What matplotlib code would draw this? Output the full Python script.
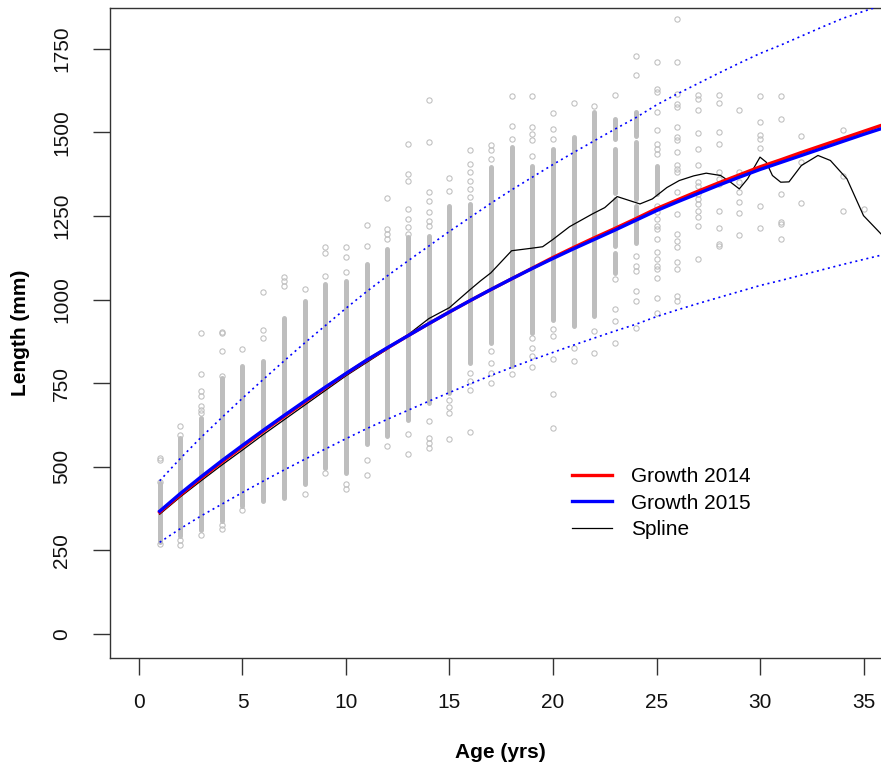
import matplotlib
matplotlib.use("Agg")
import matplotlib.pyplot as plt
from matplotlib.lines import Line2D

plt.rcParams["font.family"] = ["Liberation Sans", "DejaVu Sans"]

# ---- observed lengths -------------------------------------------------
# dense runs of overlapping points: (age, low, high)
dense_age = [1, 2, 3, 4, 5, 6, 7, 8, 9, 10, 11, 12, 13, 14, 15, 16, 17, 18,
             19, 20, 21, 22, 23, 23, 23, 23, 24, 24, 24, 25]
dense_lo = [275, 292, 312, 337, 382, 397, 407, 447, 497, 482, 567, 591, 641,
            692, 722, 811, 871, 801, 900, 940, 921, 951, 1080, 1160, 1320,
            1480, 1170, 1300, 1490, 1315]
dense_hi = [450, 587, 647, 766, 801, 816, 946, 996, 1046, 1056, 1106, 1151,
            1186, 1191, 1281, 1286, 1396, 1456, 1400, 1450, 1486, 1561, 1140,
            1300, 1450, 1540, 1280, 1470, 1560, 1400]

# single points outside the dense runs, one list per age
pt_ages = list(range(1, 36))
pt_len = [
    [270, 455, 520, 527],
    [267, 282, 594, 621],
    [297, 661, 671, 681, 711, 726, 776, 901],
    [314, 327, 771, 846, 900, 903],
    [372, 851],
    [886, 908, 1023],
    [1041, 1056, 1066],
    [417, 1031],
    [482, 1071, 1138, 1158],
    [432, 447, 1081, 1128, 1158],
    [474, 519, 1161, 1223],
    [561, 1181, 1196, 1211, 1305],
    [537, 597, 1196, 1216, 1241, 1271, 1356, 1376, 1464],
    [557, 572, 587, 636, 1221, 1236, 1261, 1296, 1321, 1471, 1596],
    [582, 662, 680, 701, 1325, 1363],
    [605, 731, 756, 781, 1306, 1331, 1356, 1381, 1406, 1446],
    [751, 781, 811, 846, 1419, 1446, 1461],
    [776, 1481, 1518, 1608],
    [798, 831, 856, 886, 1428, 1476, 1496, 1516, 1608],
    [617, 719, 821, 891, 911, 1481, 1511, 1559],
    [816, 856, 1588],
    [841, 906, 1578],
    [871, 936, 971, 1061, 1611],
    [916, 996, 1026, 1085, 1100, 1130, 1671, 1728],
    [961, 1006, 1064, 1091, 1101, 1121, 1142, 1181, 1211, 1221, 1241, 1261,
     1281, 1436, 1451, 1466, 1506, 1561, 1621, 1631, 1711],
    [996, 1011, 1091, 1111, 1156, 1176, 1196, 1256, 1321, 1381, 1391, 1401,
     1441, 1476, 1486, 1516, 1576, 1586, 1616, 1711, 1838],
    [1121, 1219, 1246, 1266, 1286, 1301, 1316, 1341, 1351, 1401, 1449, 1498,
     1568, 1601, 1613],
    [1161, 1166, 1214, 1264, 1346, 1361, 1381, 1466, 1501, 1588, 1613],
    [1194, 1259, 1291, 1321, 1351, 1381, 1568],
    [1214, 1281, 1453, 1481, 1493, 1531, 1608],
    [1181, 1226, 1231, 1316, 1539, 1608],
    [1288, 1411, 1489],
    [],
    [1264, 1371, 1506],
    [1271],
]

# ---- fitted curves ----------------------------------------------------
fit_age = list(range(1, 37))
growth_2015 = [367, 420, 470, 518, 564, 609, 653, 696, 738, 779, 819, 856,
               892, 928, 963, 997, 1030, 1062, 1093, 1123, 1152, 1180, 1208,
               1237, 1266, 1292, 1317, 1342, 1366, 1389, 1410, 1431, 1452,
               1473, 1494, 1514]
growth_2014 = [364, 416, 466, 514, 560, 606, 650, 693, 736, 778, 818, 855,
               892, 928, 963, 997, 1030, 1062, 1094, 1126, 1156, 1185, 1213,
               1242, 1272, 1298, 1324, 1349, 1373, 1397, 1418, 1440, 1461,
               1482, 1503, 1524]
upper_2015 = [458, 525, 588, 647, 705, 761, 816, 870, 922, 974, 1024, 1071,
              1116, 1160, 1204, 1246, 1288, 1328, 1366, 1404, 1440, 1475,
              1510, 1544, 1582, 1615, 1646, 1677, 1707, 1736, 1761, 1788,
              1815, 1841, 1862, 1882]
lower_2015 = [274, 315, 353, 388, 423, 457, 490, 522, 553, 584, 614, 642,
              669, 696, 722, 748, 773, 797, 820, 842, 864, 885, 906, 926, 949,
              969, 988, 1006, 1024, 1042, 1057, 1073, 1089, 1105, 1120, 1135]

spline_age = [1, 2, 3, 4, 5, 6, 7, 8, 9, 10, 11, 12, 12.5, 13, 14, 15, 16,
              16.5, 17, 18, 18.9, 19.5, 20, 20.8, 21.9, 22.5, 23.1, 23.6,
              24.2, 24.8, 25.5, 26.1, 26.8, 27.4, 28.1, 28.6, 29.0, 29.4,
              30.0, 30.3, 30.6, 31.0, 31.4, 32.0, 32.8, 33.4, 34.2, 35.0,
              35.85, 36.4]
spline_len = [358, 410, 458, 505, 550, 596, 640, 684, 728, 772, 812, 852, 875,
              895, 943, 976, 1030, 1056, 1080, 1146, 1153, 1158, 1180, 1218,
              1256, 1275, 1308, 1298, 1286, 1301, 1335, 1356, 1370, 1378, 1371,
              1350, 1331, 1361, 1426, 1411, 1371, 1351, 1352, 1401, 1431, 1416,
              1361, 1251, 1196, 1180]

x_ticks = [0, 5, 10, 15, 20, 25, 30, 35]
y_ticks = [0, 250, 500, 750, 1000, 1250, 1500, 1750]

GREY = "#BEBEBE"
W, H = 881, 766

fig = plt.figure(figsize=(W / 100, H / 100), dpi=100)
# plot region in pixels: left 110, right ~892 (past the image edge), top 8, bottom 658
ax = fig.add_axes([110 / W, (H - 658) / H, 782.5 / W, 650 / H])

ax.vlines(dense_age, dense_lo, dense_hi, color=GREY, linewidth=3.6,
          capstyle="round", zorder=1)
for a, vals in zip(pt_ages, pt_len):
    ax.plot([a] * len(vals), vals, linestyle="none", marker="o",
            markersize=3.8, markerfacecolor="none", markeredgecolor=GREY,
            markeredgewidth=0.75, zorder=2)

ax.plot(fit_age, upper_2015, color="#0000FF", linewidth=1.2,
        linestyle=(0, (1.2, 2.2)), zorder=3)
ax.plot(fit_age, lower_2015, color="#0000FF", linewidth=1.2,
        linestyle=(0, (1.2, 2.2)), zorder=3)
ax.plot(spline_age, spline_len, color="black", linewidth=0.9, zorder=4)
ax.plot(fit_age, growth_2014, color="#FF0000", linewidth=2.4, zorder=5)
ax.plot(fit_age, growth_2015, color="#0000FF", linewidth=2.4, zorder=6)

ax.set_xlim(-1.4, 36.4)
ax.set_ylim(-72, 1872)
ax.set_xticks(x_ticks)
ax.set_yticks(y_ticks)
ax.set_xticklabels([str(t) for t in x_ticks])
ax.set_yticklabels([str(t) for t in y_ticks], rotation=90, va="center")
ax.tick_params(axis="both", length=12, width=1.0, color="#333333",
               labelsize=15, labelcolor="#111111")
ax.tick_params(axis="x", pad=13)
ax.tick_params(axis="y", pad=16)
for side in ("left", "top", "bottom"):
    ax.spines[side].set_linewidth(1.0)
    ax.spines[side].set_color("#333333")
ax.spines["right"].set_visible(False)

fig.text(500 / W, 1 - 752 / H, "Age (yrs)", ha="center", va="center",
         fontsize=15, fontweight="bold")
fig.text(21 / W, 1 - 333 / H, "Length (mm)", ha="center", va="center",
         rotation=90, fontsize=15, fontweight="bold")

handles = [Line2D([], [], color="#FF0000", linewidth=2.4),
           Line2D([], [], color="#0000FF", linewidth=2.4),
           Line2D([], [], color="black", linewidth=0.9)]
ax.legend(handles, ["Growth 2014", "Growth 2015", "Spline"],
          loc="upper left", bbox_to_anchor=(572 / W, 1 - 467 / H),
          bbox_transform=fig.transFigure, frameon=False, fontsize=15,
          handlelength=1.9, handletextpad=0.95, labelspacing=0.37,
          borderpad=0, borderaxespad=0)

fig.savefig("out.png", dpi=100)
